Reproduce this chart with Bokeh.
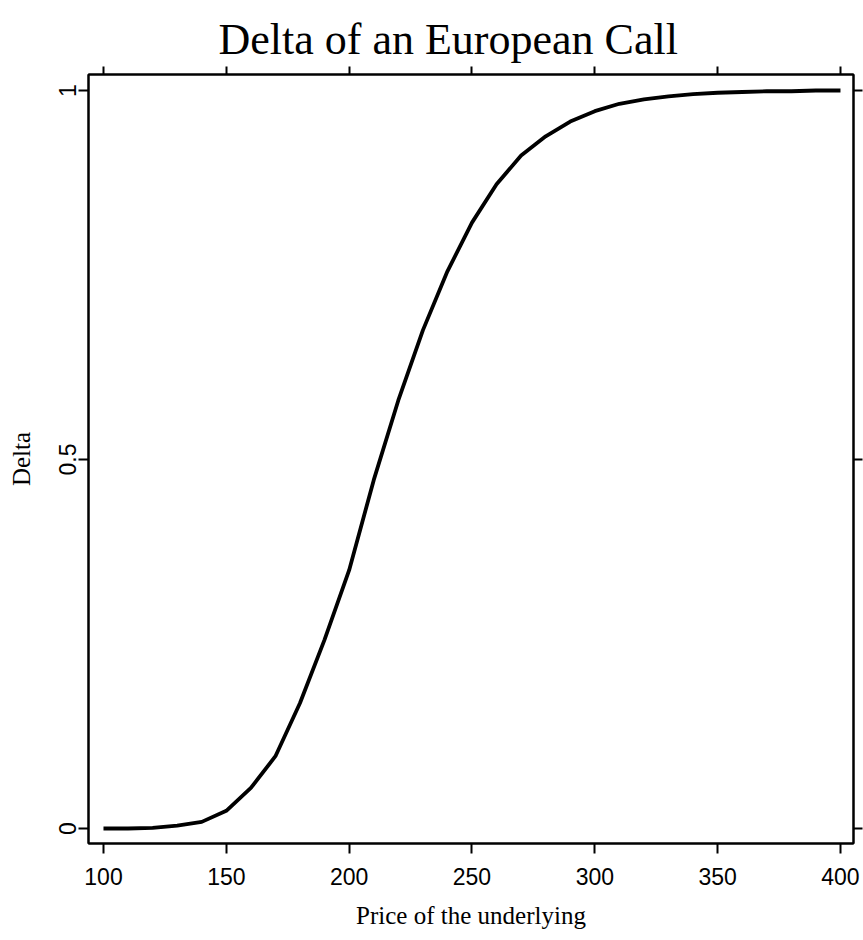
from bokeh.plotting import figure
from bokeh.models import Range1d, FixedTicker, LinearAxis, Title, CustomLabelingPolicy
from bokeh.embed import file_html
from bokeh.resources import INLINE

# ---- data ----
price = [100, 110, 120, 130, 140, 150, 160, 170, 180, 190, 200,
         210, 220, 230, 240, 250, 260, 270, 280, 290, 300,
         310, 320, 330, 340, 350, 360, 370, 380, 390, 400]
delta = [0.000, 0.000, 0.001, 0.004, 0.009, 0.024, 0.055, 0.098, 0.170, 0.256, 0.350,
         0.472, 0.580, 0.675, 0.755, 0.821, 0.873, 0.912, 0.938, 0.958, 0.972,
         0.982, 0.988, 0.992, 0.995, 0.997, 0.998, 0.999, 0.999, 1.000, 1.000]
x_ticks = [100, 150, 200, 250, 300, 350, 400]
y_ticks = [0, 0.5, 1]
y_tick_labels = ["0", "0.5", "1"]
title_text = "Delta of an European Call"
x_label = "Price of the underlying"
y_label = "Delta"

p = figure(width=863, height=940, output_backend="svg", toolbar_location=None,
           x_range=Range1d(93.9, 405.3), y_range=Range1d(-0.0203, 1.0217),
           x_axis_location=None, y_axis_location=None,
           min_border_left=88, min_border_right=9, min_border_top=74, min_border_bottom=97)
p.title = None
p.background_fill_color = "white"
p.border_fill_color = "white"
p.grid.visible = False
p.outline_line_color = "black"
p.outline_line_width = 2

def style(ax, labels=True):
    ax.axis_line_color = "black"
    ax.axis_line_width = 2
    ax.major_tick_line_color = "black"
    ax.major_tick_line_width = 2
    ax.major_tick_in = 0
    ax.minor_tick_line_color = None
    if not labels:
        ax.major_label_policy = CustomLabelingPolicy(code="return []")
        ax.major_label_standoff = -3
        ax.major_label_text_font_size = "1px"

# bottom axis
xb = LinearAxis(ticker=FixedTicker(ticks=x_ticks), axis_label=x_label)
style(xb)
xb.major_tick_out = 10
xb.major_label_standoff = 14
xb.major_label_text_font = "Liberation Sans"
xb.major_label_text_font_size = "23px"
xb.major_label_text_color = "black"
xb.axis_label_text_font = "Liberation Serif"
xb.axis_label_text_font_size = "25px"
xb.axis_label_text_font_style = "normal"
xb.axis_label_text_color = "black"
xb.axis_label_standoff = 14
p.add_layout(xb, "below")

# top axis (ticks only)
xt = LinearAxis(ticker=FixedTicker(ticks=x_ticks))
style(xt, labels=False)
xt.major_tick_out = 8
p.add_layout(xt, "above")

# left axis
yl = LinearAxis(ticker=FixedTicker(ticks=y_ticks), axis_label=y_label,
                major_label_overrides={t: s for t, s in zip(y_ticks, y_tick_labels)})
style(yl)
yl.major_tick_out = 10
yl.major_label_standoff = 2
yl.major_label_orientation = "vertical"
yl.major_label_text_font = "Liberation Sans"
yl.major_label_text_font_size = "23px"
yl.major_label_text_color = "black"
yl.axis_label_text_font = "Liberation Serif"
yl.axis_label_text_font_size = "25px"
yl.axis_label_text_font_style = "normal"
yl.axis_label_text_color = "black"
yl.axis_label_standoff = 22
p.add_layout(yl, "left")

# right axis (ticks only)
yr = LinearAxis(ticker=FixedTicker(ticks=y_ticks))
style(yr, labels=False)
yr.major_tick_out = 9
p.add_layout(yr, "right")

p.add_layout(Title(text=title_text, text_font="Liberation Serif", text_font_size="44px",
                   text_font_style="normal", text_color="black", align="left",
                   offset=130, standoff=4), "above")

p.line(price, delta, line_color="black", line_width=3.8)

open("out.html", "w").write(file_html(p, INLINE))
